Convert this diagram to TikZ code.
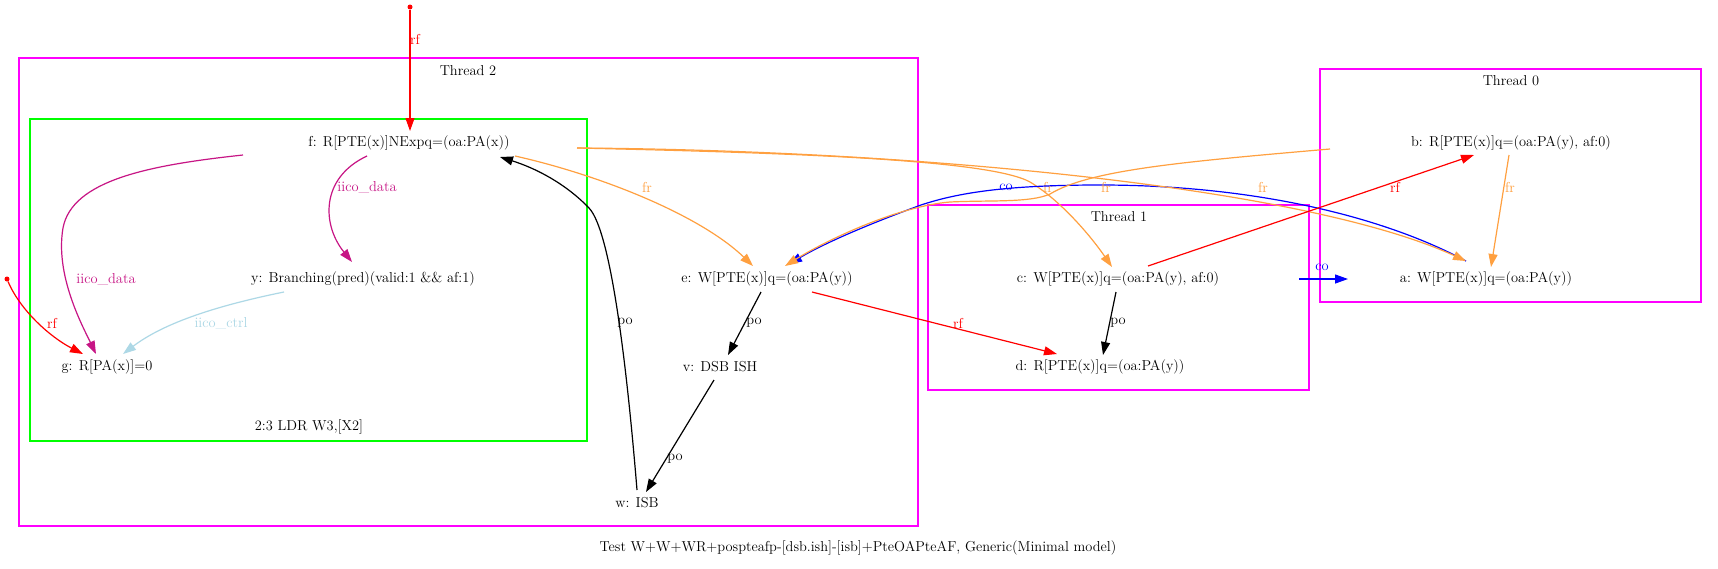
\documentclass[tikz,border=0pt]{standalone}
\usetikzlibrary{arrows.meta}
\definecolor{frc}{RGB}{255,160,64}
\definecolor{iicod}{RGB}{199,21,133}
\definecolor{iicoc}{RGB}{173,216,230}
\definecolor{clmag}{RGB}{255,0,255}
\definecolor{clgrn}{RGB}{0,255,0}
\begin{document}
\begin{tikzpicture}[x=1pt,y=-1pt,
  every node/.style={font=\fontsize{14.4}{17}\selectfont, inner sep=0pt},
  ev/.style={anchor=center},
  lab/.style={anchor=center},
  cl/.style={draw=clmag, line width=1.3pt},
  clg/.style={draw=clgrn, line width=1.3pt},
  ed/.style={line width=1.2pt, -{Triangle[length=13pt,width=9pt]}},
  dotnode/.style={circle, fill=red, minimum size=5pt, inner sep=0pt}]
\useasboundingbox[fill=white] (0,0) rectangle (1718,568);
% clusters
\draw[cl] (19,58) rectangle (918,526);
\draw[clg] (30,119) rectangle (587,441);
\draw[cl] (928,205) rectangle (1309,390);
\draw[cl] (1320,69) rectangle (1701,302);
\node[lab] (t2) at (468,71) {Thread 2};
\node[lab] (t1) at (1119,217) {Thread 1};
\node[lab] (t0) at (1511,81) {Thread 0};
\node[lab] (ldr) at (309,427) {2:3 LDR W3,[X2]};
\node[lab] (cap) at (858,548) {Test W+W+WR+pospteafp-[dsb.ish]-[isb]+PteOAPteAF, Generic(Minimal model)};
% events
\node[ev] (f) at (409,143) {f: R[PTE(x)]NExpq=(oa:PA(x))};
\node[ev] (y) at (363,279) {y: Branching(pred)(valid:1 \&\& af:1)};
\node[ev] (g) at (107,367) {g: R[PA(x)]=0};
\node[ev] (e) at (767,279) {e: W[PTE(x)]q=(oa:PA(y))};
\node[ev] (v) at (720,367) {v: DSB ISH};
\node[ev] (w) at (637,503) {w: ISB};
\node[ev] (c) at (1118,279) {c: W[PTE(x)]q=(oa:PA(y), af:0)};
\node[ev] (d) at (1100,367) {d: R[PTE(x)]q=(oa:PA(y))};
\node[ev] (b) at (1511,143) {b: R[PTE(x)]q=(oa:PA(y), af:0)};
\node[ev] (a) at (1486,279) {a: W[PTE(x)]q=(oa:PA(y))};
\node[dotnode] (p1) at (410,7) {};
\node[dotnode] (p2) at (7,279) {};
% edges
\draw[ed, red] (p1) -- ([shift={(1,-12)}]f.center);
\node[lab, red] at (415,39) {rf};
\draw[ed, red] (p2) .. controls (20,310) and (50,337) .. ([shift={(-24,-13)}]g.center);
\node[lab, red] at (52,323) {rf};
\draw[ed, iicod] ([shift={(-166,12)}]f.center) .. controls (150,165) and (72,180) .. (63,228) .. controls (55,275) and (82,325) .. ([shift={(-11,-13)}]g.center);
\node[lab, iicod] at (106,279) {iico\_data};
\draw[ed, iicod] ([shift={(-42,13)}]f.center) .. controls (320,178) and (322,225) .. ([shift={(-11,-17)}]y.center);
\node[lab, iicod] at (367,187) {iico\_data};
\draw[ed, iicoc] ([shift={(-79,13)}]y.center) .. controls (220,305) and (165,322) .. ([shift={(16,-13)}]g.center);
\node[lab, iicoc] at (221,323) {iico\_ctrl};
\draw[ed, black] ([shift={(0,-13)}]w.center) .. controls (628,380) and (612,232) .. (589,208) .. controls (565,183) and (535,168) .. ([shift={(91,14)}]f.center);
\node[lab] at (625,323) {po};
\draw[ed, frc] ([shift={(106,13)}]f.center) .. controls (600,175) and (700,215) .. ([shift={(-14,-13)}]e.center);
\node[lab, frc] at (647,187) {fr};
\draw[ed, black] ([shift={(-6,13)}]e.center) -- ([shift={(8,-12)}]v.center);
\node[lab] at (754,323) {po};
\draw[ed, black] ([shift={(-6,13)}]v.center) -- ([shift={(9,-11)}]w.center);
\node[lab] at (675,459) {po};
\draw[ed, red] ([shift={(45,13)}]e.center) -- ([shift={(-43,-13)}]d.center);
\node[lab, red] at (958,323) {rf};
\draw[ed, frc] ([shift={(168,5)}]f.center) .. controls (800,153) and (990,160) .. (1030,182) .. controls (1060,200) and (1090,235) .. ([shift={(-6,-12)}]c.center);
\node[lab, frc] at (1048,187) {fr};
\draw[ed, blue] ([shift={(-20,-18)}]a.center) .. controls (1380,215) and (1250,185) .. (1100,185) .. controls (1010,185) and (960,192) .. (921,205) .. controls (880,220) and (830,240) .. ([shift={(22,-15)}]e.center);
\node[lab, blue] at (1006,187) {co};
\draw[ed, frc] ([shift={(168,5)}]f.center) .. controls (900,150) and (1300,185) .. ([shift={(-20,-18)}]a.center);
\node[lab, frc] at (1263,187) {fr};
\draw[ed, frc] ([shift={(-181,6)}]b.center) .. controls (1180,162) and (1090,170) .. (1050,194) .. controls (1030,203) and (990,200) .. (950,202) .. controls (900,206) and (830,238) .. ([shift={(18,-13)}]e.center);
\node[lab, frc] at (1106,187) {fr};
\draw[ed, frc] ([shift={(-2,12)}]b.center) -- ([shift={(5,-12)}]a.center);
\node[lab, frc] at (1510,187) {fr};
\draw[ed, red] ([shift={(30,-13)}]c.center) -- ([shift={(-37,12)}]b.center);
\node[lab, red] at (1395,187) {rf};
\draw[ed, blue] ([shift={(181,0)}]c.center) -- ([shift={(-138,0)}]a.center);
\node[lab, blue] at (1322,267) {co};
\draw[ed, black] ([shift={(-2,13)}]c.center) -- ([shift={(3,-12)}]d.center);
\node[lab] at (1118,323) {po};
\end{tikzpicture}
\end{document}
